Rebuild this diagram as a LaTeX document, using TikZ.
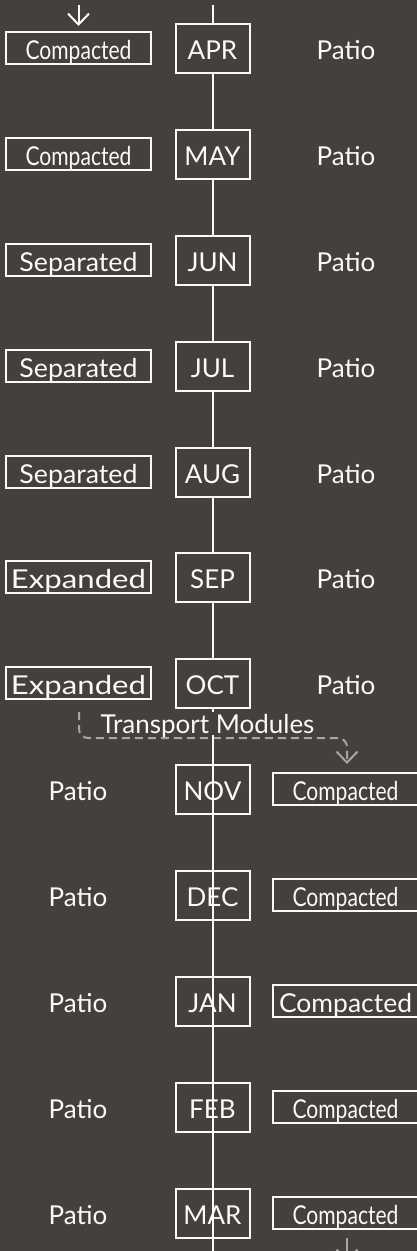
\documentclass[tikz,border=0pt]{standalone}
\usepackage{fontspec}
\setmainfont{Lato}
\usetikzlibrary{positioning, arrows.meta}
\definecolor{bgc}{RGB}{69,64,60}
\definecolor{ink}{RGB}{250,250,248}
\definecolor{move}{RGB}{168,166,162}
\newcommand{\fitw}[2]{\resizebox{#1}{\height}{#2}}

\begin{document}
\begin{tikzpicture}[x=1pt, y=-1pt, font=\fontsize{26}{30}\selectfont, text=ink,
  month/.style={draw=ink, line width=2pt, fill=bgc, minimum width=74pt, minimum height=49pt, inner sep=0pt, text height=22pt, text depth=0pt},
  state/.style={draw=ink, line width=2pt, fill=bgc, minimum width=145pt, minimum height=32pt, inner sep=0pt, text height=22pt, text depth=0pt},
  patio/.style={inner sep=0pt, text height=22pt, text depth=0pt},
  tag/.style={fill=bgc, inner sep=2pt, text depth=0pt, anchor=base},
  spine/.style={draw=ink, line width=2pt},
  flow/.style={-{Straight Barb[length=11pt, width=21pt]}, line width=2pt},
  haul/.style={flow, draw=move, dash pattern=on 8pt off 5pt, rounded corners=9pt}]

\useasboundingbox (0,0) rectangle (417,1251);
\fill[bgc] (0,0) rectangle (417,1251);

% spine, upper half runs behind the boxes
\coordinate (top) at (212.5,5);
\coordinate (mid) at (212.5,724);
\coordinate (bot) at (212.5,1262);
\draw[spine] (top) -- (mid);

% upper half: state left, patio right
\node[month] at (212.5,48) (apr) {APR};
\node[state] at (78.5,48) (apr-s) {\fitw{106pt}{Compacted}};
\node[patio] at (346,48) (apr-p) {Patio};

\node[month] at (212.5,154) (may) {MAY};
\node[state] at (78.5,154) (may-s) {\fitw{106pt}{Compacted}};
\node[patio] at (346,154) (may-p) {Patio};

\node[month] at (212.5,260) (jun) {JUN};
\node[state] at (78.5,260) (jun-s) {\fitw{118pt}{Separated}};
\node[patio] at (346,260) (jun-p) {Patio};

\node[month] at (212.5,366) (jul) {JUL};
\node[state] at (78.5,366) (jul-s) {\fitw{118pt}{Separated}};
\node[patio] at (346,366) (jul-p) {Patio};

\node[month] at (212.5,472) (aug) {AUG};
\node[state] at (78.5,472) (aug-s) {\fitw{118pt}{Separated}};
\node[patio] at (346,472) (aug-p) {Patio};

\node[month] at (212.5,577) (sep) {SEP};
\node[state] at (78.5,577) (sep-s) {\fitw{135pt}{Expanded}};
\node[patio] at (346,577) (sep-p) {Patio};

\node[month] at (212.5,683) (oct) {OCT};
\node[state] at (78.5,683) (oct-s) {\fitw{135pt}{Expanded}};
\node[patio] at (346,683) (oct-p) {Patio};

% the modules move across
\node[tag] at (207.5,733) (tm) {Transport Modules};
\coordinate (ds) at (79,712);
\coordinate (dt) at (347,738);
\coordinate (de) at (347,764);
\draw[haul] (ds) |- (dt) -- (de);

% lower half: patio left, state right
\node[month] at (212.5,789) (nov) {NOV};
\node[patio] at (78,789) (nov-p) {Patio};
\node[state] at (345.5,789) (nov-s) {\fitw{106pt}{Compacted}};

\node[month] at (212.5,895) (dec) {DEC};
\node[patio] at (78,895) (dec-p) {Patio};
\node[state] at (345.5,895) (dec-s) {\fitw{106pt}{Compacted}};

\node[month] at (212.5,1001) (jan) {JAN};
\node[patio] at (78,1001) (jan-p) {Patio};
\node[state] at (345.5,1001) (jan-s) {\fitw{133pt}{Compacted}};

\node[month] at (212.5,1107) (feb) {FEB};
\node[patio] at (78,1107) (feb-p) {Patio};
\node[state] at (345.5,1107) (feb-s) {\fitw{106pt}{Compacted}};

\node[month] at (212.5,1213) (mar) {MAR};
\node[patio] at (78,1213) (mar-p) {Patio};
\node[state] at (345.5,1213) (mar-s) {\fitw{106pt}{Compacted}};

% spine, lower half runs over the boxes
\draw[spine] (tm.south -| bot) -- (bot);

% in and out of the year
\coordinate (tin) at (78.5,5);
\coordinate (tout) at (78.5,26);
\draw[flow, draw=ink] (tin) -- (tout);
\coordinate (bin) at (347,1238);
\coordinate (bout) at (347,1262);
\draw[flow, draw=move] (bin) -- (bout);
\end{tikzpicture}
\end{document}
